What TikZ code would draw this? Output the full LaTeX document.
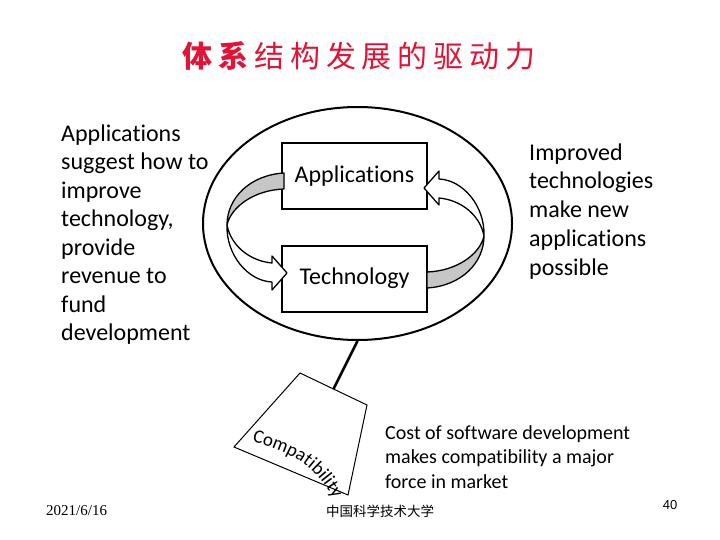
\documentclass[tikz,border=0pt]{standalone}
\usepackage{fontspec}
\setmainfont{Carlito}[Ligatures={CommonOff,ContextualOff}]
\newfontfamily\cjk{Noto Sans CJK SC}
\newfontfamily\tms{Liberation Serif}
\newfontfamily\arial{Liberation Sans}
\usetikzlibrary{shapes.geometric,decorations.text}
\definecolor{titlered}{RGB}{225,20,55}
\definecolor{bandgray}{RGB}{198,198,198}
\newcommand{\tsp}{\hspace{5.8pt}}
\begin{document}
\begin{tikzpicture}[x=1pt,y=-1pt,
  box/.style={draw,line width=2pt,minimum width=145pt,minimum height=66pt,inner sep=0pt,font=\fontsize{24}{29}\selectfont},
  para/.style={anchor=north west,inner sep=0pt,align=left},
  band/.style={draw,line width=1.3pt,line join=round},
  grayband/.style={band,fill=bandgray},
  whiteband/.style={band,fill=white},
]
\useasboundingbox (0,0) rectangle (720,540);

% title
\node[inner sep=0pt,text=titlered,font=\cjk\fontsize{30}{36}\selectfont] (title) at (359,55.5)
  {\textbf{体\tsp 系}\tsp 结\tsp 构\tsp 发\tsp 展\tsp 的\tsp 驱\tsp 动\tsp 力};

% side texts
\node[para,font=\fontsize{24}{28.5}\selectfont] (lefttext) at (61,121)
  {\strut Applications\\suggest how to\\improve\\technology,\\provide\\revenue to\\fund\\development};
\node[para,font=\fontsize{24}{28.7}\selectfont] (righttext) at (529,140)
  {\strut Improved\\technologies\\make new\\applications\\possible};
\node[para,font=\fontsize{20}{24.5}\selectfont] (costtext) at (385,422)
  {\strut Cost of software development\\makes compatibility a major\\force in market};

% ellipse and boxes
\node[draw,ellipse,line width=2pt,minimum width=309pt,minimum height=233pt,inner sep=0pt] (ell) at (357.5,223.5) {};
\node[box] (app) at (354.5,176) {Applications};
\node[box] (tech) at (354.5,278.5) {Technology};

% left curved arrow
\path[grayband] (284,173) .. controls (250,175) and (227,198) .. (227,225)
   .. controls (231,207) and (254,190) .. (284,189) -- cycle;
\path[whiteband] (227,225) .. controls (226,255) and (248,281) .. (272,282)
   -- (272,290) -- (287,273) -- (272,256) -- (272,263)
   .. controls (250,261) and (231,246) .. (227,225) -- cycle;
% right curved arrow (point reflection of the left one)
\begin{scope}[rotate around={180:(355.5,230.5)}]
\path[grayband] (284,173) .. controls (250,175) and (227,198) .. (227,225)
   .. controls (231,207) and (254,190) .. (284,189) -- cycle;
\path[whiteband] (227,225) .. controls (226,255) and (248,281) .. (272,282)
   -- (272,290) -- (287,273) -- (272,256) -- (272,263)
   .. controls (250,261) and (231,246) .. (227,225) -- cycle;
\end{scope}

% compatibility weight
\draw[line width=1pt,line join=miter] (300,373) coordinate (tzA) -- (367,405) coordinate (tzB)
  -- (348,495) coordinate (tzC) -- (234,447) coordinate (tzD) -- cycle;
\coordinate (tzTop) at (333.5,389);
\draw[line width=2.5pt] (ell.south) -- (tzTop);
\path[decorate,decoration={text along path,text align=left,
  text={|\fontsize{19}{23}\selectfont|Compatibility}}]
  (252,442) .. controls (286,451) and (314,462) .. (334,500);

% footer
\node[anchor=base west,inner sep=0pt,font=\tms\fontsize{15}{18}\selectfont] (date) at (46,515) {2021/6/16};
\node[inner sep=0pt,font=\cjk\fontsize{13.5}{16}\selectfont] (inst) at (380,511) {中国科学技术大学};
\node[inner sep=0pt,font=\arial\fontsize{13}{16}\selectfont] (pagenum) at (670,505) {40};
\end{tikzpicture}
\end{document}
